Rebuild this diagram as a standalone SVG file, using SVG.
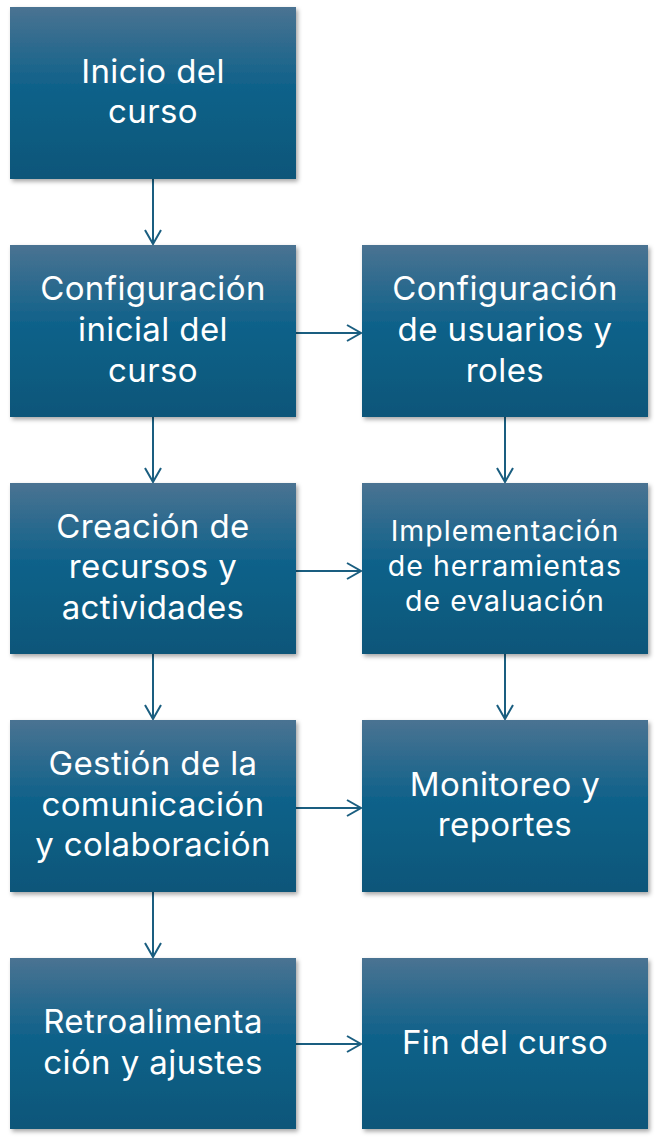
<svg xmlns="http://www.w3.org/2000/svg" width="661" height="1143" viewBox="0 0 661 1143">
<defs>
<linearGradient id="g" x1="0" y1="0" x2="0" y2="1">
<stop offset="0" stop-color="#4a7392"/>
<stop offset="0.45" stop-color="#11628a"/>
<stop offset="1" stop-color="#0b5679"/>
</linearGradient>
<filter id="sh" x="-10%" y="-10%" width="125%" height="125%">
<feDropShadow dx="2" dy="2.5" stdDeviation="2" flood-color="#000" flood-opacity="0.35"/>
</filter>
<marker id="ah" markerUnits="userSpaceOnUse" markerWidth="20" markerHeight="20" viewBox="-16 -10 18 20" refX="0" refY="0" orient="auto">
<path d="M-14,-8 L0,0 L-14,8" fill="none" stroke="#1a5e80" stroke-width="2"/>
</marker>
<style>
.box{fill:url(#g);filter:url(#sh);}
.t{fill:#fff;font-family:Inter,"Open Sans","Liberation Sans",sans-serif;font-size:33px;letter-spacing:0.4px;text-anchor:middle;}
.s{font-size:28.5px;letter-spacing:1px;}
.c{stroke:#1a5e80;stroke-width:2;fill:none;marker-end:url(#ah);}
</style>
</defs>
<rect width="661" height="1143" fill="#fff"/>
<g id="connectors">
<line class="c" x1="153" y1="179" x2="153" y2="244"/>
<line class="c" x1="153" y1="417" x2="153" y2="482"/>
<line class="c" x1="153" y1="654" x2="153" y2="719"/>
<line class="c" x1="153" y1="892" x2="153" y2="957"/>
<line class="c" x1="505" y1="417" x2="505" y2="482"/>
<line class="c" x1="505" y1="654" x2="505" y2="719"/>
<line class="c" x1="296" y1="333" x2="361" y2="333"/>
<line class="c" x1="296" y1="571" x2="361" y2="571"/>
<line class="c" x1="296" y1="808" x2="361" y2="808"/>
<line class="c" x1="296" y1="1044" x2="361" y2="1044"/>
</g>
<g id="n1"><rect class="box" x="10" y="7" width="286" height="172"/>
<text class="t" x="153" y="82.5">Inicio del</text><text class="t" x="153" y="123">curso</text></g>
<g id="n2"><rect class="box" x="10" y="245" width="286" height="172"/>
<text class="t" x="153" y="300">Configuración</text><text class="t" x="153" y="341">inicial del</text><text class="t" x="153" y="382">curso</text></g>
<g id="n3"><rect class="box" x="362" y="245" width="286" height="172"/>
<text class="t" x="505" y="300">Configuración</text><text class="t" x="505" y="341">de usuarios y</text><text class="t" x="505" y="382">roles</text></g>
<g id="n4"><rect class="box" x="10" y="483" width="286" height="171"/>
<text class="t" x="153" y="537.5">Creación de</text><text class="t" x="153" y="578">recursos y</text><text class="t" x="153" y="618.5">actividades</text></g>
<g id="n5"><rect class="box" x="362" y="483" width="286" height="171"/>
<text class="t s" x="505" y="541">Implementación</text><text class="t s" x="505" y="576">de herramientas</text><text class="t s" x="505" y="611">de evaluación</text></g>
<g id="n6"><rect class="box" x="10" y="720" width="286" height="172"/>
<text class="t" x="153" y="775">Gestión de la</text><text class="t" x="153" y="815.5">comunicación</text><text class="t" x="153" y="856">y colaboración</text></g>
<g id="n7"><rect class="box" x="362" y="720" width="286" height="172"/>
<text class="t" x="505" y="795.5">Monitoreo y</text><text class="t" x="505" y="836">reportes</text></g>
<g id="n8"><rect class="box" x="10" y="958" width="286" height="171"/>
<text class="t" x="153" y="1033">Retroalimenta</text><text class="t" x="153" y="1073.5">ción y ajustes</text></g>
<g id="n9"><rect class="box" x="362" y="958" width="286" height="171"/>
<text class="t" x="505" y="1053.5">Fin del curso</text></g>
</svg>
